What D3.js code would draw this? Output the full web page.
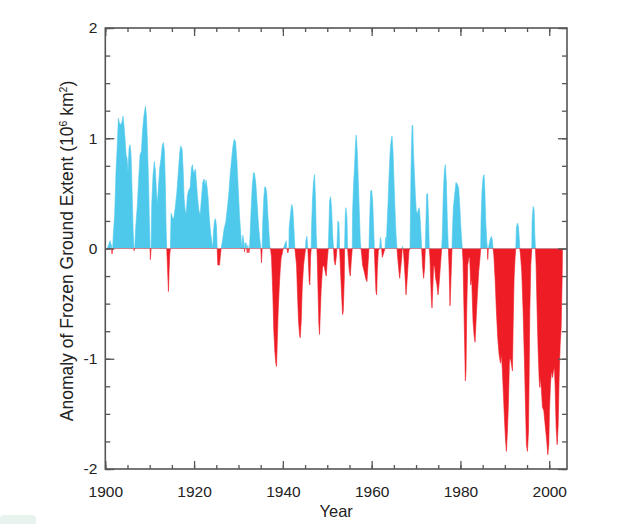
<!DOCTYPE html>
<html>
<head>
<meta charset="utf-8">
<script src="https://cdn.jsdelivr.net/npm/d3@7"></script>
<style>
  html, body { margin: 0; padding: 0; background: #fff; }
  svg { display: block; }
  text { font-family: Arial, "Liberation Sans", sans-serif; fill: #222; }
</style>
</head>
<body>
<svg id="chart" width="629" height="524"></svg>
<script>
// ---- data: frozen ground extent anomaly (10^6 km^2) ----
const years = [
  1900.46,1901.06,1901.36,1901.51,1901.66,1901.81,1902.11,1902.41,1902.71,1902.94,
  1903.17,1903.47,1903.77,1903.99,1904.22,1904.44,1904.67,1904.89,1905.12,1905.35,
  1905.57,1905.80,1906.02,1906.25,1906.40,1906.47,1906.62,1906.85,1907.23,1907.53,
  1907.83,1908.13,1908.43,1908.73,1909.03,1909.26,1909.48,1909.71,1909.93,1910.08,
  1910.16,1910.31,1910.46,1910.76,1911.06,1911.29,1911.51,1911.74,1911.96,1912.26,
  1912.56,1912.86,1913.09,1913.32,1913.54,1913.69,1913.84,1913.99,1914.22,1914.37,
  1914.52,1914.67,1914.82,1915.12,1915.42,1915.72,1916.10,1916.47,1916.77,1917.00,
  1917.30,1917.53,1917.75,1917.98,1918.20,1918.50,1918.80,1919.11,1919.41,1919.63,
  1919.86,1920.08,1920.31,1920.53,1920.76,1921.06,1921.36,1921.66,1921.96,1922.26,
  1922.49,1922.71,1922.94,1923.17,1923.39,1923.69,1923.99,1924.22,1924.37,1924.59,
  1924.82,1925.05,1925.20,1925.35,1925.72,1925.95,1926.10,1926.40,1926.77,1927.15,
  1927.45,1927.83,1928.13,1928.43,1928.73,1929.03,1929.33,1929.63,1929.93,1930.23,
  1930.53,1930.76,1930.98,1931.21,1931.36,1931.51,1931.74,1931.96,1932.11,1932.34,
  1932.49,1932.79,1933.09,1933.39,1933.62,1933.92,1934.22,1934.52,1934.75,1934.90,
  1935.03,1935.18,1935.33,1935.48,1935.71,1935.93,1936.16,1936.38,1936.61,1936.84,
  1937.06,1937.21,1937.44,1937.74,1937.96,1938.19,1938.41,1938.57,1938.72,1938.94,
  1939.17,1939.39,1939.62,1939.84,1940.07,1940.29,1940.45,1940.75,1940.90,1941.12,
  1941.35,1941.42,1941.65,1941.87,1942.02,1942.25,1942.47,1942.70,1943.08,1943.30,
  1943.53,1943.75,1943.90,1944.13,1944.35,1944.66,1944.96,1945.11,1945.18,1945.41,
  1945.63,1945.78,1945.93,1946.08,1946.23,1946.38,1946.46,1946.69,1946.91,1947.14,
  1947.36,1947.51,1947.66,1947.74,1947.96,1948.11,1948.26,1948.41,1948.64,1948.94,
  1949.24,1949.54,1949.77,1949.99,1950.22,1950.37,1950.52,1950.75,1950.97,1951.20,
  1951.42,1951.57,1951.80,1952.02,1952.17,1952.40,1952.63,1952.78,1953.00,1953.23,
  1953.45,1953.60,1953.83,1953.90,1954.05,1954.20,1954.43,1954.58,1954.73,1954.96,
  1955.18,1955.41,1955.63,1955.71,1955.93,1956.16,1956.38,1956.53,1956.76,1956.99,
  1957.21,1957.44,1957.59,1957.74,1957.96,1958.34,1958.64,1958.94,1959.17,1959.39,
  1959.54,1959.77,1959.99,1960.22,1960.45,1960.60,1960.75,1960.97,1961.12,1961.27,
  1961.50,1961.80,1961.95,1962.10,1962.25,1962.40,1962.63,1963.00,1963.15,1963.30,
  1963.45,1963.68,1963.90,1964.13,1964.35,1964.58,1964.81,1965.03,1965.26,1965.48,
  1965.71,1965.86,1966.08,1966.31,1966.53,1966.76,1966.91,1967.06,1967.21,1967.51,
  1967.74,1967.96,1968.19,1968.41,1968.64,1968.87,1969.09,1969.25,1969.38,1969.60,
  1969.83,1970.05,1970.28,1970.50,1970.73,1970.95,1971.18,1971.26,1971.48,1971.71,
  1971.93,1972.08,1972.23,1972.38,1972.61,1972.83,1972.98,1973.13,1973.28,1973.44,
  1973.59,1973.74,1973.96,1974.19,1974.41,1974.71,1974.94,1975.17,1975.39,1975.62,
  1975.77,1975.92,1976.14,1976.37,1976.59,1976.82,1977.04,1977.27,1977.42,1977.65,
  1977.87,1978.10,1978.17,1978.40,1978.70,1979.00,1979.30,1979.60,1979.83,1980.05,
  1980.28,1980.43,1980.58,1980.80,1980.95,1981.10,1981.25,1981.41,1981.63,1981.93,
  1982.08,1982.31,1982.53,1982.83,1983.06,1983.29,1983.51,1983.81,1984.11,1984.41,
  1984.56,1984.64,1984.86,1985.09,1985.32,1985.47,1985.69,1985.92,1986.07,1986.14,
  1986.29,1986.67,1986.97,1987.20,1987.35,1987.50,1987.80,1988.10,1988.40,1988.70,
  1989.00,1989.23,1989.45,1989.68,1989.90,1990.13,1990.35,1990.58,1990.80,1991.03,
  1991.25,1991.48,1991.71,1991.86,1992.08,1992.31,1992.46,1992.61,1992.83,1993.06,
  1993.28,1993.36,1993.51,1993.81,1994.11,1994.41,1994.64,1994.86,1995.09,1995.32,
  1995.47,1995.62,1995.84,1996.07,1996.14,1996.37,1996.59,1996.74,1996.89,1997.04,
  1997.27,1997.50,1997.72,1997.87,1998.02,1998.25,1998.47,1998.77,1999.08,1999.38,
  1999.68,1999.90,2000.05,2000.28,2000.50,2000.73,2000.95,2001.18,2001.33,2001.56,
  2001.78,2002.01,2002.23,2002.46,2002.68,2002.91,2002.98
];
const anomaly = [
  0,0.07,0.03,-0.05,0,0.13,0.3,0.7,0.94,1.18,
  1.14,1.12,1.15,1.2,1.11,1.0,0.85,0.82,0.69,0.91,
  0.94,0.85,0.55,0.19,0.02,-0.02,0,0.19,0.4,0.64,
  0.85,0.88,1.09,1.21,1.29,1.21,0.97,0.64,0.25,0,
  -0.1,0,0.4,0.67,0.79,0.7,0.52,0.4,0.55,0.73,
  0.82,0.94,0.96,0.88,0.55,0.19,0,-0.15,-0.39,-0.2,
  -0.05,0,0.32,0.28,0.27,0.36,0.5,0.7,0.87,0.93,
  0.9,0.72,0.45,0.35,0.31,0.48,0.53,0.55,0.73,0.76,
  0.68,0.7,0.72,0.6,0.47,0.35,0.3,0.45,0.6,0.63,
  0.57,0.62,0.55,0.45,0.3,0.15,0.06,0,0.15,0.25,
  0.27,0.2,0,-0.15,-0.15,-0.05,0,0.07,0.18,0.24,
  0.35,0.5,0.67,0.8,0.92,0.99,0.97,0.8,0.55,0.3,
  0.12,0,0.12,0.06,-0.03,0.05,0.05,-0.04,0.03,-0.04,
  0,0.3,0.56,0.69,0.68,0.58,0.4,0.2,0.1,0.05,
  0,-0.13,0,0.25,0.46,0.56,0.55,0.49,0.31,0.16,
  0.02,0,-0.08,-0.42,-0.75,-0.93,-1.04,-1.07,-0.87,-0.57,
  -0.36,-0.2,-0.08,-0.05,0,0.02,0.04,0.07,0,-0.04,
  0,0.19,0.28,0.37,0.4,0.35,0.19,0,-0.15,-0.42,
  -0.66,-0.78,-0.81,-0.66,-0.36,-0.15,-0.05,0,0.07,0.11,
  0,-0.15,-0.3,-0.33,-0.08,0,0.19,0.46,0.61,0.67,
  0.43,0.13,0,-0.08,-0.45,-0.69,-0.78,-0.6,-0.36,-0.17,
  -0.15,-0.21,-0.25,-0.11,0,0.19,0.43,0.47,0.37,0.13,
  0,-0.11,-0.15,-0.08,0,0.25,0.23,0,-0.21,-0.42,
  -0.6,-0.57,-0.27,0,0.3,0.37,0.28,0,-0.08,-0.2,
  -0.25,-0.11,0,0.34,0.58,0.76,0.97,1.03,0.88,0.61,
  0.34,0.07,0,-0.05,-0.15,-0.21,-0.27,-0.3,-0.15,0,
  0.25,0.52,0.53,0.43,0.19,0,-0.17,-0.39,-0.42,-0.2,
  -0.02,0,0.1,0.07,0,-0.08,-0.05,0,0.1,0.05,
  0.19,0.4,0.64,0.85,0.97,1.02,0.88,0.61,0.34,0.13,
  0,-0.08,-0.18,-0.27,-0.18,-0.08,0.02,0,-0.05,-0.24,
  -0.42,-0.3,-0.15,-0.02,0,0.73,1.11,1.12,0.91,0.7,
  0.49,0.34,0.31,0.35,0.37,0.25,0.07,0,-0.17,-0.27,
  -0.17,0,0.25,0.49,0.5,0.25,0,-0.08,-0.27,-0.45,
  -0.54,-0.39,-0.15,-0.17,-0.27,-0.33,-0.42,-0.33,-0.21,-0.08,
  0,0.13,0.49,0.7,0.76,0.61,0.25,0,-0.15,-0.52,
  -0.27,0,0.13,0.37,0.49,0.6,0.58,0.55,0.4,0.22,
  0.07,0,-0.11,-0.57,-0.87,-1.2,-1.11,-0.57,-0.15,-0.08,
  -0.08,-0.33,-0.27,-0.66,-0.78,-0.85,-0.66,-0.42,-0.21,-0.08,
  0,0.25,0.52,0.64,0.67,0.55,0.25,0.07,0,-0.1,
  0,0.08,0.11,0.07,0,-0.05,-0.27,-0.57,-0.81,-0.96,
  -1.04,-0.96,-1.11,-1.32,-1.53,-1.72,-1.84,-1.66,-1.41,-1.02,
  -0.99,-1.05,-1.11,-0.72,-0.27,-0.08,0,0.19,0.23,0.2,
  0.07,0,-0.05,-0.21,-0.57,-1.02,-1.41,-1.78,-1.84,-1.66,
  -1.17,-0.57,-0.15,0,0.25,0.38,0.35,0.13,0,-0.15,
  -0.57,-0.93,-1.17,-1.26,-1.17,-1.29,-1.44,-1.47,-1.6,-1.72,
  -1.87,-1.78,-1.47,-1.23,-1.11,-1.17,-1.11,-1.08,-1.26,-1.63,
  -1.78,-1.6,-1.17,-0.87,-0.72,-0.27,0
];
const xTickLabels = [1900, 1920, 1940, 1960, 1980, 2000];
const yTickLabels = [-2, -1, 0, 1, 2];
const xLabel = "Year";

// ---- layout ----
const svg = d3.select("#chart");
const pL = 105.3, pR = 567, pT = 28, pB = 469;
const x = d3.scaleLinear().domain([1900, 2004]).range([pL, pR]);
const y = d3.scaleLinear().domain([-2, 2]).range([pB, pT]);
const data = years.map((yr, i) => ({ year: yr, v: anomaly[i] }));
const zeroY = y(0);

svg.append("rect").attr("x", 0).attr("y", 515).attr("width", 36).attr("height", 12)
  .attr("rx", 4).attr("fill", "#e8f3ee");

const defs = svg.append("defs");
defs.append("clipPath").attr("id", "clipPos").append("rect")
  .attr("x", pL).attr("y", pT).attr("width", pR - pL).attr("height", zeroY - pT);
defs.append("clipPath").attr("id", "clipNeg").append("rect")
  .attr("x", pL).attr("y", zeroY).attr("width", pR - pL).attr("height", pB - zeroY);

const area = d3.area().x(d => x(d.year)).y0(zeroY).y1(d => y(d.v));

svg.append("path").datum(data).attr("d", area)
  .attr("fill", "#4ec9ec").attr("stroke", "#4ec9ec").attr("stroke-width", 0.6)
  .attr("clip-path", "url(#clipPos)");
svg.append("path").datum(data).attr("d", area)
  .attr("fill", "#ee1c25").attr("stroke", "#ee1c25").attr("stroke-width", 0.6)
  .attr("clip-path", "url(#clipNeg)");

// ---- axes (ticks inward on all four sides) ----
const axisColor = "#555";
const xMinor = d3.range(1900, 2004, 5);
const yMinor = d3.range(-2, 2.001, 0.25);
const plainFmt = d => String(d);

svg.append("g").attr("transform", `translate(0,${pB})`)
  .call(d3.axisBottom(x).tickValues(xMinor).tickSize(-4).tickFormat(""));
svg.append("g").attr("transform", `translate(0,${pT})`)
  .call(d3.axisTop(x).tickValues(xMinor).tickSize(-4).tickFormat(""));
svg.append("g").attr("transform", `translate(${pL},0)`)
  .call(d3.axisLeft(y).tickValues(yMinor).tickSize(-5).tickFormat(""));
svg.append("g").attr("transform", `translate(${pR},0)`)
  .call(d3.axisRight(y).tickValues(yMinor).tickSize(-5).tickFormat(""));

// major ticks
svg.append("g").attr("transform", `translate(0,${pB})`)
  .call(d3.axisBottom(x).tickValues(xTickLabels).tickSize(-8).tickPadding(17).tickFormat(plainFmt));
svg.append("g").attr("transform", `translate(0,${pT})`)
  .call(d3.axisTop(x).tickValues(xTickLabels).tickSize(-8).tickFormat(""));
svg.append("g").attr("transform", `translate(${pL},0)`)
  .call(d3.axisLeft(y).tickValues(yTickLabels).tickSize(-9).tickPadding(8).tickFormat(plainFmt));
svg.append("g").attr("transform", `translate(${pR},0)`)
  .call(d3.axisRight(y).tickValues(yTickLabels).tickSize(-9).tickFormat(""));

svg.selectAll(".domain").remove();
svg.selectAll(".tick line").attr("stroke", axisColor).attr("stroke-width", 1.3);
svg.selectAll(".tick text").attr("font-size", 15.5).attr("fill", "#222")
  .attr("font-family", "Arial, 'Liberation Sans', sans-serif");

svg.append("rect").attr("x", pL).attr("y", pT).attr("width", pR - pL).attr("height", pB - pT)
  .attr("fill", "none").attr("stroke", axisColor).attr("stroke-width", 1.6);

// ---- labels ----
svg.append("text").attr("x", (pL + pR) / 2).attr("y", 517).attr("text-anchor", "middle")
  .attr("font-size", 16.5).text(xLabel);

const yl = svg.append("text").attr("transform", `translate(73,251) rotate(-90)`)
  .attr("text-anchor", "middle").attr("font-size", 17.5);
yl.append("tspan").text("Anomaly of Frozen Ground Extent (10");
yl.append("tspan").attr("font-size", 10.5).attr("dy", -6.5).text("6");
yl.append("tspan").attr("dy", 6.5).text(" km");
yl.append("tspan").attr("font-size", 10.5).attr("dy", -6.5).text("2");
yl.append("tspan").attr("dy", 6.5).text(")");
</script>
</body>
</html>
